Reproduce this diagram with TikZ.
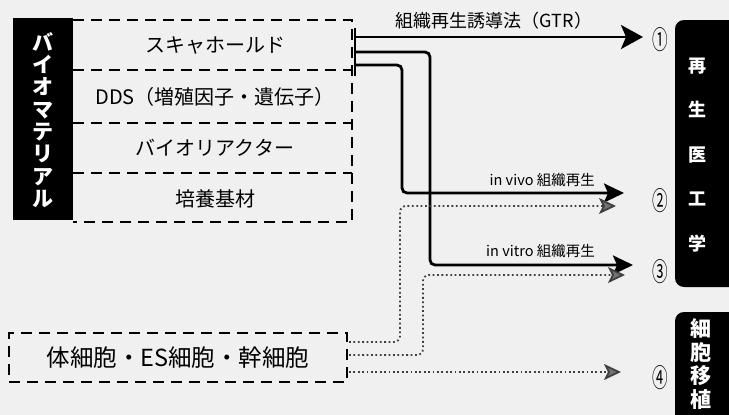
\documentclass[tikz,border=0pt]{standalone}
\usepackage{fontspec}
\setmainfont{Noto Sans CJK JP}
\usetikzlibrary{arrows.meta}
\begin{document}
\begin{tikzpicture}[x=1pt,y=-1pt,
  dashbox/.style={draw, line width=1.1pt, dash pattern=on 11pt off 7pt},
  blackbox/.style={fill=black, rounded corners=9pt, inner sep=0pt},
  vtext/.style={text=white, align=center, inner sep=0pt},
  itemtext/.style={font=\fontsize{20}{22}\selectfont, inner sep=0pt},
  labeltext/.style={font=\fontsize{14.5}{16}\selectfont, inner sep=0pt},
  numtext/.style={font=\fontsize{26}{28}\selectfont, inner sep=0pt},
  solidarr/.style={line width=2.8pt, rounded corners=5pt, -{Stealth[length=22pt,width=24pt,inset=5pt]}},
  solidarrb/.style={line width=2.8pt, rounded corners=5pt, -{Stealth[length=20pt,width=19pt,inset=4pt]}},
  dotarr/.style={line width=1.8pt, black!75, dash pattern=on 1.8pt off 2.6pt, rounded corners=6pt, -{Stealth[length=17pt,width=16pt,inset=4pt,fill=black!55]}},
]
\useasboundingbox (0,0) rectangle (729,415);
\fill[black!6] (0,0) rectangle (729,415);

% left black label
\node[fill=black, inner sep=0pt, minimum width=60pt, minimum height=202pt] (bm) at (43,119) {};
\node[vtext, font=\fontsize{21}{22.3}\selectfont\bfseries] (bmtext) at (43,120) {バ\\イ\\オ\\マ\\テ\\リ\\ア\\ル};

% materials dashed box
\draw[dashbox] (73,20) -- (352,20) -- (352,222) -- (73,222);
\draw[dashbox] (73,70) -- (352,70);
\draw[dashbox] (73,123) -- (352,123);
\draw[dashbox] (73,173) -- (352,173);
\node[itemtext] (scaf) at (215,45) {スキャホールド};
\node[itemtext] (dds) at (215,97) {DDS（増殖因子・遺伝子）};
\node[itemtext] (bior) at (215,148) {バイオリアクター};
\node[itemtext] (sub) at (215,199) {培養基材};

% outlet bar
\coordinate (bt) at (355,28);
\coordinate (bb) at (355,76);
\draw[line width=1.8pt] (bt) -- (bb);

% solid arrows
\coordinate (s1) at (355,37);
\coordinate (e1) at (643,37);
\draw[solidarr] (s1) -- (e1);
\coordinate (s3) at (355,52);
\coordinate (e3) at (633,265);
\draw[solidarrb] (s3) -- (430,52) -- (430,265) -- (e3);
\coordinate (s2) at (355,65);
\coordinate (e2) at (624,193);
\draw[solidarrb] (s2) -- (402,65) -- (402,193) -- (e2);

% labels
\node[font=\fontsize{18}{20}\selectfont, inner sep=0pt] (gtr) at (494,21) {組織再生誘導法（GTR）};
\node[labeltext, anchor=east] (vivo) at (595,180) {in vivo 組織再生};
\node[labeltext, anchor=east] (vitro) at (595,251) {in vitro 組織再生};

% cells box
\node[dashbox, minimum width=338pt, minimum height=49pt, inner sep=0pt,
      font=\fontsize{23.5}{25}\selectfont] (cells) at (178,357.5) {体細胞・ES細胞・幹細胞};

% dotted arrows
\coordinate (c1) at (349,342);
\coordinate (d2) at (616,206);
\draw[dotarr] (c1) -- (400,342) -- (400,206) -- (d2);
\coordinate (c2) at (349,355);
\coordinate (d3) at (625,275);
\draw[dotarr] (c2) -- (423,355) -- (423,275) -- (d3);
\coordinate (c3) at (349,372);
\coordinate (d4) at (621,372);
\draw[dotarr] (c3) -- (d4);

% circled numbers
\node[numtext] (n1) at (660,40) {\scalebox{0.6}[1]{①}};
\node[numtext] (n2) at (660,201) {\scalebox{0.6}[1]{②}};
\node[numtext] (n3) at (660,272) {\scalebox{0.6}[1]{③}};
\node[numtext] (n4) at (660,378) {\scalebox{0.6}[1]{④}};

% right black boxes
\node[blackbox, minimum width=70pt, minimum height=267pt] (regen) at (710,153.5) {};
\node[vtext, font=\fontsize{18}{44.5}\selectfont\bfseries] (regentext) at (697,155) {再\\生\\医\\工\\学};
\node[blackbox, minimum width=70pt, minimum height=120pt] (trans) at (710,372) {};
\node[vtext, font=\fontsize{21}{23.5}\selectfont\bfseries] (transtext) at (701,364) {細\\胞\\移\\植};
\end{tikzpicture}
\end{document}
